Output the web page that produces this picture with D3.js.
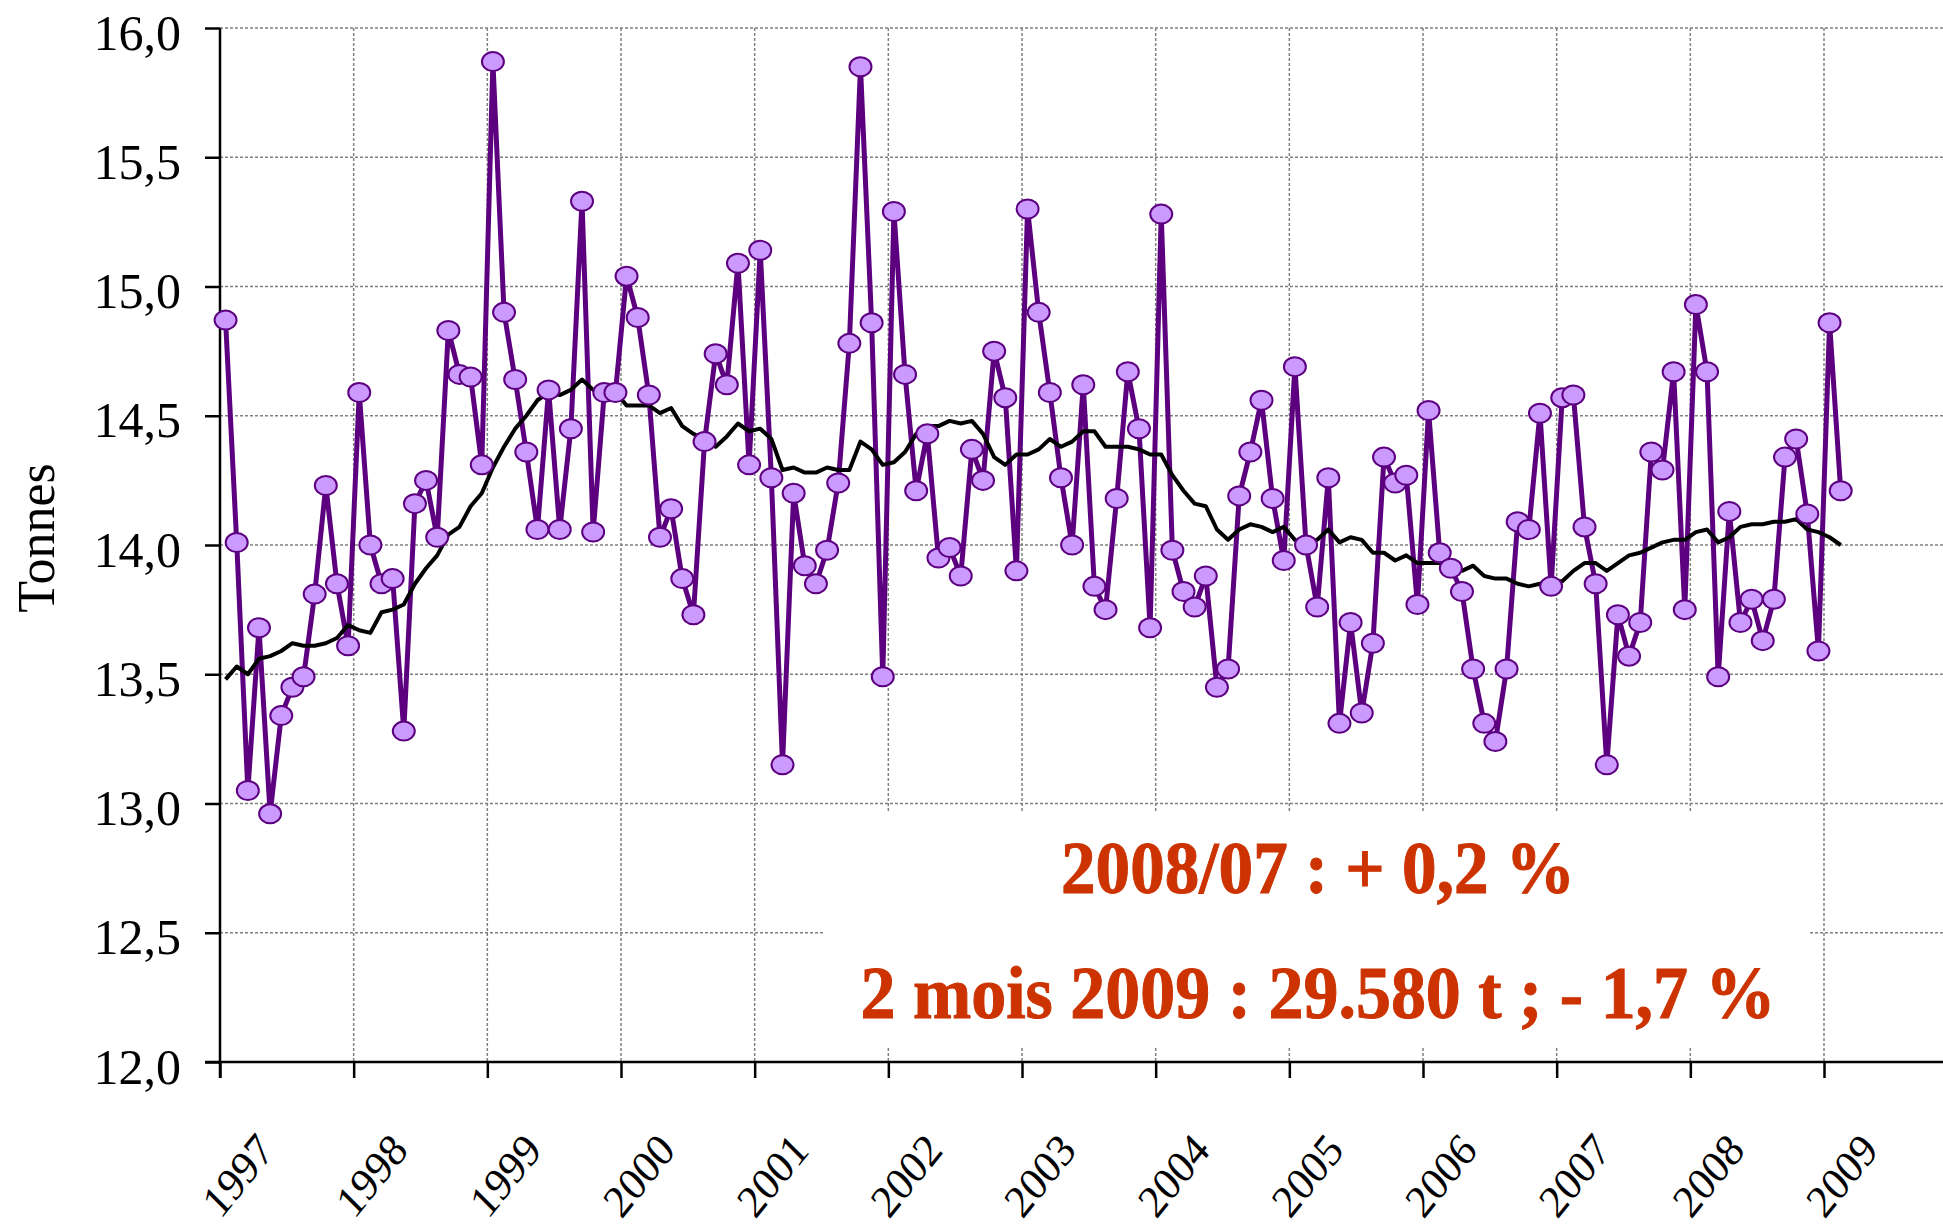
<!DOCTYPE html>
<html>
<head>
<meta charset="utf-8">
<script src="https://cdn.jsdelivr.net/npm/d3@7"></script>
<style>
  body { margin: 0; background: #fff; }
  svg { display: block; font-family: "Liberation Serif", "Times New Roman", serif; }
</style>
</head>
<body>
<svg width="1943" height="1225"></svg>
<script>
// year ticks on the x axis
const years = [1997, 1998, 1999, 2000, 2001, 2002, 2003, 2004, 2005, 2006, 2007, 2008, 2009];
const yTicks = [12, 12.5, 13, 13.5, 14, 14.5, 15, 15.5, 16];

// monthly tonnage, Jan 1997 -> Feb 2009
const tonnes = [
  14.87, 14.01, 13.05, 13.68, 12.96, 13.34, 13.45, 13.49, 13.81, 14.23, 13.85, 13.61,
  14.59, 14.00, 13.85, 13.87, 13.28, 14.16, 14.25, 14.03, 14.83, 14.66, 14.65, 14.31,
  15.87, 14.90, 14.64, 14.36, 14.06, 14.60, 14.06, 14.45, 15.33, 14.05, 14.59, 14.59,
  15.04, 14.88, 14.58, 14.03, 14.14, 13.87, 13.73, 14.40, 14.74, 14.62, 15.09, 14.31,
  15.14, 14.26, 13.15, 14.20, 13.92, 13.85, 13.98, 14.24, 14.78, 15.85, 14.86, 13.49,
  15.29, 14.66, 14.21, 14.43, 13.95, 13.99, 13.88, 14.37, 14.25, 14.75, 14.57, 13.90,
  15.30, 14.90, 14.59, 14.26, 14.00, 14.62, 13.84, 13.75, 14.18, 14.67, 14.45, 13.68,
  15.28, 13.98, 13.82, 13.76, 13.88, 13.45, 13.52, 14.19, 14.36, 14.56, 14.18, 13.94,
  14.69, 14.00, 13.76, 14.26, 13.31, 13.70, 13.35, 13.62, 14.34, 14.24, 14.27, 13.77,
  14.52, 13.97, 13.91, 13.82, 13.52, 13.31, 13.24, 13.52, 14.09, 14.06, 14.51, 13.84,
  14.57, 14.58, 14.07, 13.85, 13.15, 13.73, 13.57, 13.70, 14.36, 14.29, 14.67, 13.75,
  14.93, 14.67, 13.49, 14.13, 13.70, 13.79, 13.63, 13.79, 14.34, 14.41, 14.12, 13.59,
  14.86, 14.21
];

// 12-month moving average, same months
const moyenne12 = [
  13.48, 13.53, 13.50, 13.56, 13.57, 13.59, 13.62, 13.61, 13.61, 13.62, 13.64, 13.69,
  13.67, 13.66, 13.74, 13.75, 13.77, 13.85, 13.91, 13.96, 14.04, 14.07, 14.15, 14.20,
  14.30, 14.38, 14.45, 14.50, 14.56, 14.59, 14.58, 14.60, 14.64, 14.60, 14.59, 14.59,
  14.54, 14.54, 14.54, 14.51, 14.53, 14.46, 14.43, 14.41, 14.38, 14.42, 14.47, 14.44,
  14.45, 14.41, 14.29, 14.30, 14.28, 14.28, 14.30, 14.29, 14.29, 14.40, 14.37, 14.31,
  14.32, 14.36, 14.43, 14.46, 14.46, 14.48, 14.47, 14.48, 14.43, 14.34, 14.31, 14.35,
  14.35, 14.37, 14.41, 14.38, 14.40, 14.44, 14.44, 14.38, 14.38, 14.38, 14.37, 14.35,
  14.35, 14.27, 14.21, 14.16, 14.15, 14.06, 14.02, 14.06, 14.08, 14.07, 14.05, 14.07,
  14.02, 14.01, 14.02, 14.06, 14.01, 14.03, 14.02, 13.97, 13.97, 13.94, 13.96, 13.93,
  13.93, 13.93, 13.91, 13.90, 13.92, 13.88, 13.87, 13.87, 13.85, 13.84, 13.85, 13.86,
  13.86, 13.90, 13.93, 13.93, 13.90, 13.93, 13.96, 13.97, 13.99, 14.01, 14.02, 14.02,
  14.05, 14.06, 14.01, 14.03, 14.07, 14.08, 14.08, 14.09, 14.09, 14.10, 14.06, 14.05,
  14.03, 14.00
];

const annotations = ['2008/07 : + 0,2 %', '2 mois 2009 : 29.580 t ; - 1,7 %'];

const W = 1943, H = 1225;
const svg = d3.select('svg');

const x = d3.scaleLinear().domain([1997, 2009]).range([220, 1824]);
const y = d3.scaleLinear().domain([12, 16]).range([1062, 28]);
const monthPos = i => 1997 + (i + 0.5) / 12;
const fmt = d => d.toFixed(1).replace('.', ',');

// grid
const grid = svg.append('g').attr('stroke', '#808080').attr('stroke-width', 1.5).attr('stroke-dasharray', '3,2');
grid.selectAll('.hg').data(yTicks.filter(d => d > 12)).join('line')
  .attr('x1', x(1997)).attr('x2', W).attr('y1', d => y(d)).attr('y2', d => y(d));
grid.selectAll('.vg').data(years.slice(1)).join('line')
  .attr('x1', d => x(d)).attr('x2', d => x(d)).attr('y1', y(16)).attr('y2', y(12));

// white box behind the notes
svg.append('rect').attr('x', 823).attr('y', 813).attr('width', 985).attr('height', 234).attr('fill', '#fff');

// axes
const yAxis = svg.append('g').attr('transform', `translate(${x(1997)},0)`)
  .call(d3.axisLeft(y).tickValues(yTicks).tickSize(15).tickPadding(24).tickFormat(fmt));
yAxis.select('.domain').remove();
yAxis.selectAll('line').attr('stroke', '#000').attr('stroke-width', 2.5);
yAxis.selectAll('text').attr('font-size', 50).attr('font-family', 'Liberation Serif, serif')
  .attr('fill', '#000').attr('dy', '0.42em');

const xAxis = svg.append('g').attr('transform', `translate(0,${y(12)})`)
  .call(d3.axisBottom(x).tickValues(years).tickSize(16).tickFormat(d3.format('d')));
xAxis.select('.domain').remove();
xAxis.selectAll('line').attr('stroke', '#000').attr('stroke-width', 2.5);
xAxis.selectAll('text').attr('font-size', 46).attr('font-family', 'Liberation Serif, serif')
  .attr('fill', '#000').attr('y', null).attr('dy', '0.35em').attr('text-anchor', 'middle')
  .attr('transform', 'translate(17,113) scale(0.9,1) rotate(-48)');

svg.append('line').attr('x1', x(1997)).attr('x2', x(1997)).attr('y1', y(16)).attr('y2', y(12) + 16)
  .attr('stroke', '#000').attr('stroke-width', 2.5);
svg.append('line').attr('x1', x(1997) - 15).attr('x2', W).attr('y1', y(12)).attr('y2', y(12))
  .attr('stroke', '#000').attr('stroke-width', 2.5);

// y title
svg.append('text').attr('transform', 'translate(36,538) rotate(-90)')
  .attr('text-anchor', 'middle').attr('dy', '0.35em').attr('font-size', 52).text('Tonnes');

// series
const line = d3.line().x((d, i) => x(monthPos(i))).y(d => y(d));
svg.append('path').datum(tonnes).attr('d', line)
  .attr('fill', 'none').attr('stroke', '#5c0080').attr('stroke-width', 5).attr('stroke-linejoin', 'round');
svg.append('path').datum(moyenne12).attr('d', line)
  .attr('fill', 'none').attr('stroke', '#000').attr('stroke-width', 4).attr('stroke-linejoin', 'round');
svg.append('g').selectAll('ellipse').data(tonnes).join('ellipse')
  .attr('cx', (d, i) => x(monthPos(i))).attr('cy', d => y(d))
  .attr('rx', 11).attr('ry', 9.5)
  .attr('fill', '#cc99ff').attr('stroke', '#5c0080').attr('stroke-width', 2);

// notes
svg.selectAll('.note').data(annotations).join('text').attr('class', 'note')
  .attr('x', 1318).attr('y', (d, i) => i ? 1018 : 893)
  .attr('text-anchor', 'middle').attr('font-size', 74).attr('font-weight', 'bold')
  .attr('fill', '#cc3300').attr('stroke', '#cc3300').attr('stroke-width', 1)
  .attr('textLength', (d, i) => i ? 915 : 514).attr('lengthAdjust', 'spacingAndGlyphs')
  .text(d => d);
</script>
</body>
</html>
